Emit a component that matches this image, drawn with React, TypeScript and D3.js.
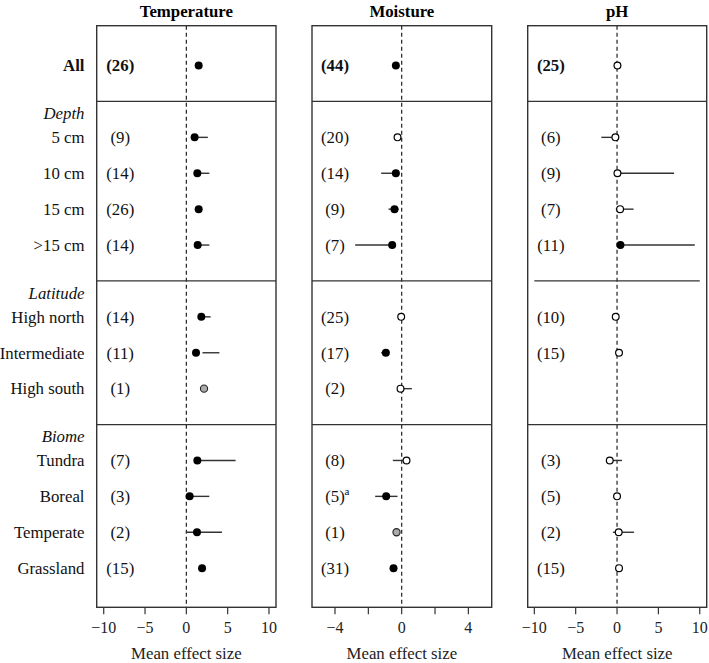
import React from "react";
import * as d3 from "d3";

const rowLabels = ["All", "5 cm", "10 cm", "15 cm", ">15 cm", "High north", "Intermediate", "High south", "Tundra", "Boreal", "Temperate", "Grassland"];
const rowIndex = [0, 2, 3, 4, 5, 7, 8, 9, 11, 12, 13, 14];
const groupHeaders = ["Depth", "Latitude", "Biome"];
const groupHeaderIndex = [1.33, 6.33, 10.33];
const dividerIndex = [1, 6, 10];

const tempMean = [1.49, 1.0, 1.33, 1.49, 1.37, 1.81, 1.17, 2.14, 1.33, 0.4, 1.29, 1.9];
const tempLow = [1.3, 0.7, 1.0, 1.3, 1.0, 1.5, 1.95, 2.14, 1.0, 0.1, 0.0, 1.6];
const tempHigh = [1.7, 2.6, 2.78, 1.7, 2.78, 2.94, 4.0, 2.14, 5.96, 2.78, 4.31, 2.1];
const tempN = [26, 9, 14, 26, 14, 14, 11, 1, 7, 3, 2, 15];
const tempType = ["f", "f", "f", "f", "f", "f", "f", "g", "f", "f", "f", "f"];

const moistMean = [-0.35, -0.25, -0.35, -0.43, -0.57, -0.03, -0.95, -0.07, 0.29, -0.93, -0.31, -0.49];
const moistLow = [-0.5, -0.45, -1.23, -0.79, -2.79, -0.2, -1.23, -0.2, -0.53, -1.59, -0.4, -0.6];
const moistHigh = [-0.2, -0.05, -0.15, -0.19, -0.35, 0.15, -0.75, 0.61, 0.4, -0.25, -0.2, -0.35];
const moistN = [44, 20, 14, 9, 7, 25, 17, 2, 8, 5, 1, 31];
const moistType = ["f", "o", "f", "f", "f", "o", "f", "o", "o", "f", "g", "f"];
const moistSup = ["", "", "", "", "", "", "", "", "", "a", "", ""];

const phMean = [0.05, -0.2, 0.05, 0.37, 0.41, -0.16, 0.24, null, -0.88, 0, 0.2, 0.24];
const phLow = [-0.15, -1.9, -0.1, -0.15, 0.2, -0.3, 0.1, null, -1.1, -0.15, -0.5, 0.1];
const phHigh = [0.25, 0.0, 6.9, 2.0, 9.4, 0.0, 0.4, null, 0.6, 0.15, 2.06, 0.4];
const phN = [25, 6, 9, 7, 11, 10, 15, null, 3, 5, 2, 15];
const phType = ["o", "o", "o", "o", "f", "o", "o", "", "o", "o", "o", "o"];

const tempTicks = [-10, -5, 0, 5, 10];
const moistTicks = [-4, -2, 0, 2, 4];
const moistTickLabels = [-4, 0, 4];
const phTicks = [-10, -5, 0, 5, 10];

const FONT = "'Liberation Serif', 'Times New Roman', serif";
const FS = 16.8;

const y = d3.scaleLinear().domain([-1.11, 15.09]).range([25.7, 607.3]);

function fmt(v: number) {
  return v < 0 ? "\u2212" + Math.abs(v) : String(v);
}

function Panel(props: any) {
  const { title, left, right, domain, ticks, tickLabels, mean, low, high, n, type, sup, labelX, partialDivider } = props;
  const x = d3.scaleLinear().domain(domain).range([left, right]);
  const top = y.range()[0];
  const bottom = y.range()[1];
  return (
    <g>
      <text x={(left + right) / 2} y={17} textAnchor="middle" fontWeight="bold" fontSize={16.8} fontFamily={FONT}>{title}</text>
      <line x1={x(0)} x2={x(0)} y1={top} y2={bottom} stroke="#222" strokeWidth={1.2} strokeDasharray="4,3" />
      {dividerIndex.map((d, i) => {
        const partial = partialDivider === d;
        return (
          <line key={i} x1={partial ? x(-10) : left} x2={partial ? x(10) : right} y1={y(d)} y2={y(d)} stroke="#333" strokeWidth={1.3} />
        );
      })}
      <rect x={left} y={top} width={right - left} height={bottom - top} fill="none" stroke="#333" strokeWidth={1.4} />
      {ticks.map((t: number) => (
        <line key={"t" + t} x1={x(t)} x2={x(t)} y1={bottom} y2={bottom + 7} stroke="#333" strokeWidth={1.2} />
      ))}
      {tickLabels.map((t: number) => (
        <text key={"l" + t} x={x(t)} y={633} textAnchor="middle" fontSize={16} fontFamily={FONT} fill="#222">{fmt(t)}</text>
      ))}
      <text x={(left + right) / 2} y={658.5} textAnchor="middle" fontSize={FS} fontFamily={FONT} fill="#222">Mean effect size</text>
      {rowIndex.map((ri, i) => {
        if (mean[i] === null || mean[i] === undefined) return null;
        const yy = y(ri);
        const t = type[i];
        return (
          <g key={"p" + i}>
            <line x1={x(low[i])} x2={x(high[i])} y1={yy} y2={yy} stroke="#333" strokeWidth={1.4} />
            {t === "f" && <circle cx={x(mean[i])} cy={yy} r={4} fill="#000" />}
            {t === "o" && <circle cx={x(mean[i])} cy={yy} r={3.4} fill="#fff" stroke="#000" strokeWidth={1.2} />}
            {t === "g" && <circle cx={x(mean[i])} cy={yy} r={3.6} fill="#aaa" stroke="#222" strokeWidth={1.1} />}
          </g>
        );
      })}
      {rowIndex.map((ri, i) => {
        if (n[i] === null || n[i] === undefined) return null;
        const cx = x(labelX);
        return (
          <g key={"n" + i}>
            <text x={cx} y={y(ri) + 5.8} textAnchor="middle" fontSize={FS} fontFamily={FONT} fontWeight={i === 0 ? "bold" : "normal"} fill="#111">({n[i]})</text>
            {sup && sup[i] ? (
              <text x={cx + 9.5} y={y(ri) - 1} fontSize={11} fontFamily={FONT} fill="#111">{sup[i]}</text>
            ) : null}
          </g>
        );
      })}
    </g>
  );
}

export default function App() {
  return (
    <svg width={709} height={663} style={{ position: "absolute", left: 0, top: 0, background: "#fff" }}>
      <rect x={0} y={0} width={709} height={663} fill="#fff" />
      {rowIndex.map((ri, i) => (
        <text key={"r" + i} x={84.5} y={y(ri) + 5.8} textAnchor="end" fontSize={FS} fontFamily={FONT} fontWeight={i === 0 ? "bold" : "normal"} fill="#111">{rowLabels[i]}</text>
      ))}
      {groupHeaders.map((g, i) => (
        <text key={"g" + i} x={84.5} y={y(groupHeaderIndex[i]) + 5.8} textAnchor="end" fontSize={FS} fontFamily={FONT} fontStyle="italic" fill="#111">{g}</text>
      ))}
      <Panel title="Temperature" left={96.7} right={276} domain={[-10.85, 10.85]} ticks={tempTicks} tickLabels={tempTicks}
        mean={tempMean} low={tempLow} high={tempHigh} n={tempN} type={tempType} labelX={-8} />
      <Panel title="Moisture" left={312} right={491.7} domain={[-5.38, 5.4]} ticks={moistTicks} tickLabels={moistTickLabels}
        mean={moistMean} low={moistLow} high={moistHigh} n={moistN} type={moistType} sup={moistSup} labelX={-4} />
      <Panel title="pH" left={527.7} right={706.7} domain={[-10.8, 10.84]} ticks={phTicks} tickLabels={phTicks}
        mean={phMean} low={phLow} high={phHigh} n={phN} type={phType} labelX={-8} partialDivider={6} />
    </svg>
  );
}
